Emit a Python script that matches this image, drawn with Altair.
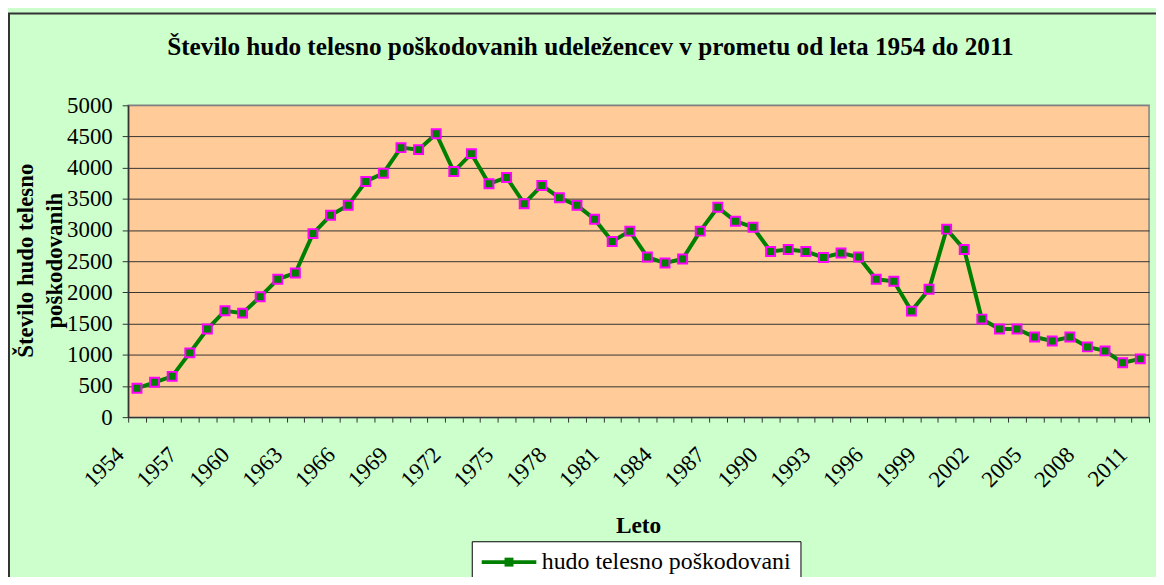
import altair as alt
import pandas as pd

# --- data ---
years = list(range(1954, 2012))
values = [462, 558, 654, 1030, 1413, 1706, 1668, 1929, 2210, 2312,
          2943, 3237, 3396, 3779, 3911, 4321, 4289, 4544, 3938, 4225,
          3741, 3843, 3422, 3715, 3518, 3396, 3173, 2816, 2982, 2567,
          2471, 2535, 2982, 3364, 3141, 3045, 2656, 2688, 2656, 2561,
          2631, 2567, 2210, 2178, 1700, 2051, 3014, 2688, 1572, 1413,
          1413, 1285, 1221, 1285, 1126, 1062, 871, 934]
series_name = "hudo telesno poškodovani"
label_years = years[::3]
tick_positions = [y - 0.5 for y in years] + [years[-1] + 0.5]
y_ticks = list(range(0, 5001, 500))

title_text = "Število hudo telesno poškodovanih udeležencev v prometu od leta 1954 do 2011"
y_title = ["Število hudo telesno", "poškodovanih"]
x_title = "Leto"

FONT = "Liberation Serif"
GREEN = "#008000"
MAGENTA = "#FF00FF"
DARK = "#333333"

df = pd.DataFrame({"leto": years, "v": values, "serie": series_name, "serie2": series_name})

W, H = 1028, 314
xs = alt.Scale(domain=[years[0] - 0.5, years[-1] + 0.5], nice=False, zero=False)
ys = alt.Scale(domain=[0, 5000], nice=False)

label_axis = alt.Axis(
    orient="bottom",
    values=label_years, format="d", ticks=False, domain=False, grid=False,
    labelAngle=-45, labelAlign="right", labelBaseline="middle",
    labelFont=FONT, labelFontSize=23, labelColor="black",
    labelPadding=51, translate=-16.7,
    labelOverlap=False, labelFlush=False,
    title=x_title, titleFont=FONT, titleFontSize=23.5, titleFontWeight="bold",
    titleColor="black", titleX=530.7, titleY=133.5, titleBaseline="alphabetic", zindex=1,
)
tick_axis = alt.Axis(
    orient="bottom",
    values=tick_positions, labels=False, ticks=True, tickSize=5, tickColor=DARK,
    tickWidth=1, domain=True, domainColor=DARK, domainWidth=1.5, grid=False,
    title=None, zindex=1,
)
y_axis = alt.Axis(
    orient="left",
    values=y_ticks, format="d", tickSize=6, tickColor=DARK, tickWidth=1,
    domainColor=DARK, domainWidth=1.5,
    grid=True, gridColor=alt.condition("datum.value == 5000", alt.value("#808080"), alt.value(DARK)),
    gridWidth=1, gridOpacity=1,
    labelFont=FONT, labelFontSize=23, labelColor="black", labelPadding=10,
    title=y_title, titleFont=FONT, titleFontSize=23, titleFontWeight="bold",
    titleColor="black", titleAngle=270, titleX=-103, titleY=156,
    titleBaseline="middle", titleAlign="center", titleLineHeight=29,
)

base = alt.Chart(df)

line = base.mark_line(strokeWidth=4).encode(
    x=alt.X("leto:Q", scale=xs, axis=label_axis),
    y=alt.Y("v:Q", scale=ys, axis=y_axis),
    color=alt.Color(
        "serie:N", scale=alt.Scale(range=[GREEN]),
        legend=alt.Legend(
            title=None, orient="none", legendX=346, legendY=439,
            symbolType="M-5,0H5", symbolSize=121, symbolStrokeWidth=4,
            symbolOffset=16.5, labelOffset=21, labelLimit=500,
            labelFont=FONT, labelFontSize=24, labelColor="black",
            padding=9, strokeColor="black", fillColor="white",
        ),
    ),
)

points = base.mark_point(
    shape="square", size=81, filled=True, fill=GREEN, stroke=MAGENTA,
    strokeWidth=2, opacity=1,
).encode(
    x=alt.X("leto:Q", scale=xs, axis=tick_axis),
    y=alt.Y("v:Q", scale=ys, axis=y_axis),
    shape=alt.Shape(
        "serie2:N", scale=alt.Scale(range=["square"]),
        legend=alt.Legend(
            title=None, orient="none", legendX=346, legendY=439,
            symbolSize=81, symbolStrokeWidth=2, symbolFillColor=GREEN,
            symbolStrokeColor=MAGENTA, symbolOpacity=1,
            symbolOffset=16.5, labelOffset=21, labelLimit=500,
            labelFont=FONT, labelFontSize=24, labelColor="transparent",
            padding=9,
        ),
    ),
)

frame_df = pd.DataFrame({"a": [0]})
top_border = alt.Chart(frame_df).mark_rule(color=DARK, strokeWidth=2).encode(
    x=alt.value(-121), x2=alt.value(W + 40), y=alt.value(-92.5)
)
left_border = alt.Chart(frame_df).mark_rule(color=DARK, strokeWidth=2).encode(
    x=alt.value(-120), y=alt.value(-93), y2=alt.value(H + 200)
)

chart = alt.layer(line, points, top_border, left_border).resolve_axis(
    x="independent"
).properties(
    width=W, height=H,
    autosize=alt.AutoSizeParams(type="none"),
    padding={"left": 121, "top": 96, "right": 7, "bottom": 159},
    title=alt.TitleParams(
        text=title_text, font=FONT, fontSize=25.4, fontWeight="bold",
        color="black", anchor="middle", dx=-48.5, offset=0, dy=68.5,
        baseline="alphabetic", frame="group",
    ),
).configure(
    background="#CCFFCC",
).configure_view(
    fill="#FFCC99", stroke="#808080", strokeWidth=1.5,
)

chart.save("out.html", embed_options={"renderer": "svg", "actions": False})
